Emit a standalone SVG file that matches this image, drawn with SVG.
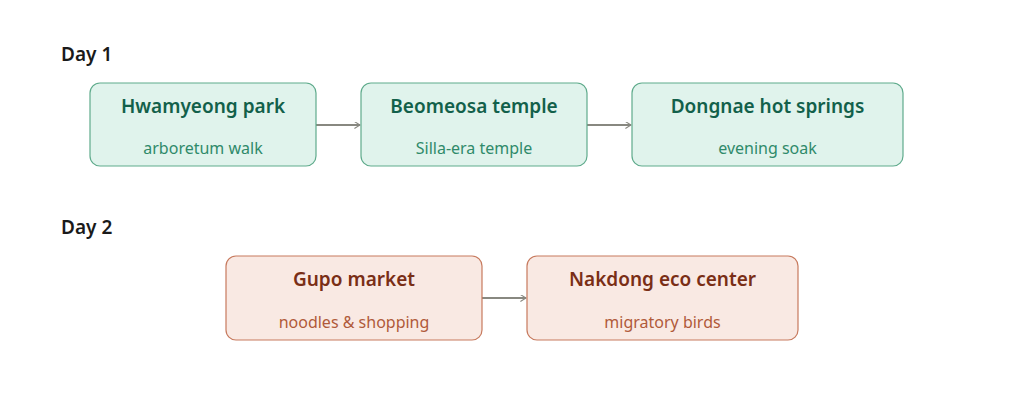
<svg xmlns="http://www.w3.org/2000/svg" width="1024" height="407" viewBox="0 0 1024 407">
<style>
text{font-family:"Noto Sans","Open Sans",sans-serif}
.day{font-size:19px;font-weight:600;fill:#1a1a1a}
.g rect{fill:#e0f3ec;stroke:#5fab8c;stroke-width:1.2}
.g .t{fill:#12604a;font-size:19px;font-weight:600}
.g .s{fill:#2f8a6a;font-size:16px}
.o rect{fill:#f9e9e3;stroke:#c77a5e;stroke-width:1.2}
.o .t{fill:#7a2e16;font-size:19px;font-weight:600}
.o .s{fill:#b05a3a;font-size:16px}
.c line{stroke:#888880;stroke-width:2;marker-end:url(#a)}
</style>
<defs><marker id="a" viewBox="0 0 10 10" refX="9" refY="5" markerWidth="7" markerHeight="7" markerUnits="userSpaceOnUse" orient="auto"><path d="M1 0L9 5L1 10" fill="none" stroke="#888880" stroke-width="1.5"/></marker></defs>
<text class="day" x="61" y="61">Day 1</text>
<text class="day" x="61" y="234">Day 2</text>
<g class="c">
<line x1="316" y1="125" x2="360" y2="125"/>
<line x1="587" y1="125" x2="631" y2="125"/>
<line x1="482" y1="298" x2="526" y2="298"/>
</g>
<g id="n1" class="g"><rect x="90" y="83" width="226" height="83" rx="10"/><text class="t" x="203" y="113" text-anchor="middle">Hwamyeong park</text><text class="s" x="203" y="154" text-anchor="middle">arboretum walk</text></g>
<g id="n2" class="g"><rect x="361" y="83" width="226" height="83" rx="10"/><text class="t" x="474" y="113" text-anchor="middle">Beomeosa temple</text><text class="s" x="474" y="154" text-anchor="middle">Silla-era temple</text></g>
<g id="n3" class="g"><rect x="632" y="83" width="271" height="83" rx="10"/><text class="t" x="767.5" y="113" text-anchor="middle">Dongnae hot springs</text><text class="s" x="767.5" y="154" text-anchor="middle">evening soak</text></g>
<g id="n4" class="o"><rect x="226" y="256" width="256" height="84" rx="10"/><text class="t" x="354" y="286" text-anchor="middle">Gupo market</text><text class="s" x="354" y="328" text-anchor="middle">noodles &amp; shopping</text></g>
<g id="n5" class="o"><rect x="527" y="256" width="271" height="84" rx="10"/><text class="t" x="662.5" y="286" text-anchor="middle">Nakdong eco center</text><text class="s" x="662.5" y="328" text-anchor="middle">migratory birds</text></g>
</svg>
